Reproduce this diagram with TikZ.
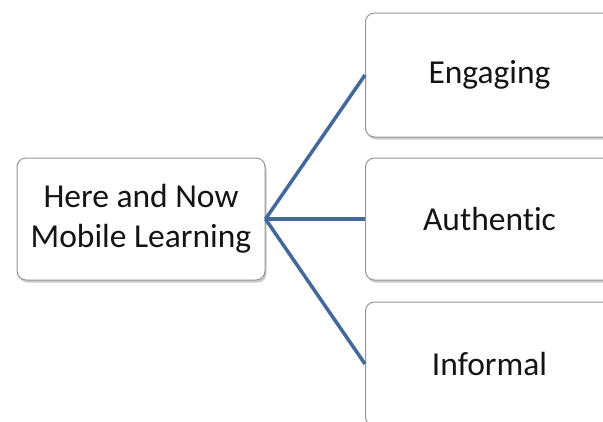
\documentclass[tikz,border=0pt]{standalone}
\usepackage{fontspec}
\setmainfont[Ligatures={NoCommon}]{Carlito}
\usetikzlibrary{shadows}
\definecolor{linkblue}{RGB}{66,104,158}
\definecolor{boxborder}{RGB}{150,150,150}
\definecolor{txt}{RGB}{20,20,20}
\tikzset{
  itembox/.style={draw=boxborder, line width=1pt, fill=white, rounded corners=9pt,
    minimum width=#1, inner sep=0pt, align=center, text=txt,
    font=\fontsize{33.5}{40}\selectfont,
    drop shadow={shadow xshift=1.5pt, shadow yshift=-2.5pt, opacity=0.35, fill=black!60}},
  link/.style={draw=linkblue, line width=3.5pt}
}
\begin{document}
\begin{tikzpicture}[x=1pt,y=-1pt]
\useasboundingbox (0,0) rectangle (603,421);
\clip (0,0) rectangle (603,421);
\node[itembox=248pt, minimum height=122pt] (hub) at (141,219) {Here and Now\\Mobile Learning};
\node[itembox=248pt, minimum height=124pt, anchor=west] (eng) at (365,75) {Engaging};
\node[itembox=248pt, minimum height=122pt, anchor=west] (aut) at (365,219) {Authentic};
\node[itembox=248pt, minimum height=124pt, anchor=west] (inf) at (365,364) {Informal};
\draw[link] (hub.east) -- (eng.west);
\draw[link] (hub.east) -- (aut.west);
\draw[link] (hub.east) -- (inf.west);
\end{tikzpicture}
\end{document}
